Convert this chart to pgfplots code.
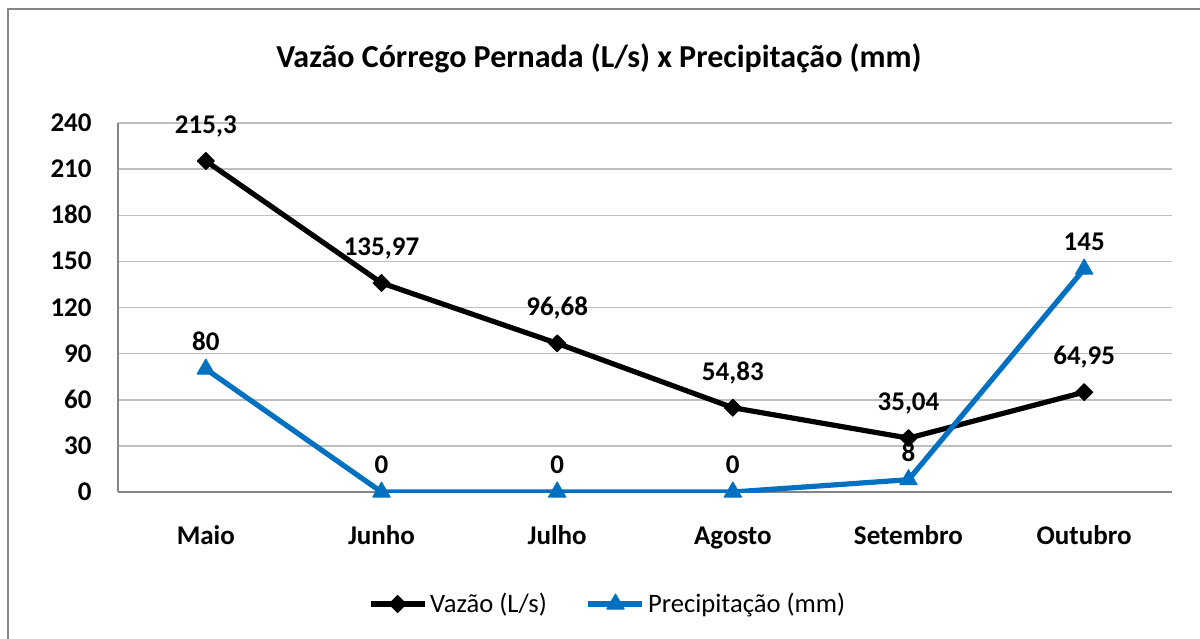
\documentclass[border=0pt]{standalone}
\usepackage{pgfplots}
\pgfplotsset{compat=1.18}
\usepackage{fontspec}
\setmainfont{Carlito}
\definecolor{pblue}{RGB}{0,112,192}
\definecolor{gridc}{RGB}{191,191,191}
\definecolor{axc}{RGB}{134,134,134}
\begin{document}
\begin{tikzpicture}[x=1pt,y=1pt]
\begin{axis}[
  at={(59pt,73pt)}, anchor=south west,
  scale only axis, width=527pt, height=184.5pt,
  xmin=-0.5, xmax=5.5, ymin=0, ymax=240,
  xtick={0,1,2,3,4,5},
  xticklabels={Maio,Junho,Julho,Agosto,Setembro,Outubro},
  ytick={0,30,...,240},
  ymajorgrids, major grid style={gridc, line width=0.75pt},
  axis x line*=bottom, axis y line*=left,
  axis line style={axc, line width=0.75pt, -},
  major tick length=0pt,
  /pgf/number format/assume math mode=true,
  ticklabel style={font=\fontsize{13.5}{15}\selectfont\bfseries, inner sep=0pt},
  yticklabel style={anchor=base east, xshift=-13pt, yshift=-4.3pt},
  xticklabel style={anchor=base, yshift=-26pt},
  legend columns=2,
  legend style={draw=none, fill=none, at={(0.465,0)}, anchor=center, yshift=-56pt,
    font=\fontsize{13.3}{15}\selectfont,
    /tikz/every even column/.append style={column sep=18pt},
    nodes={inner sep=1.5pt}},
  legend image code/.code={\draw[mark repeat=2,mark phase=2,#1] plot coordinates {(0pt,0pt) (13.5pt,0pt) (27pt,0pt)};},
]
\addplot[black, line width=2.6pt, line join=round,
  mark=square*, mark size=3pt, mark options={solid, line width=0.5pt, rotate=45, fill=black},
  nodes near coords, point meta=explicit symbolic,
  every node near coord/.style={anchor=base, yshift=13.8pt, inner sep=0pt, font=\fontsize{13.5}{15}\selectfont\bfseries, text=black}]
  coordinates {(0,215.3)[215,3] (1,135.97)[135,97] (2,96.68)[96,68] (3,54.83)[54,83] (4,35.04)[35,04] (5,64.95)[64,95]};
\addplot[pblue, line width=2.6pt, line join=round,
  mark=triangle*, mark size=5pt, mark options={solid, line width=0.5pt, fill=pblue, draw=pblue},
  nodes near coords, point meta=explicit symbolic,
  every node near coord/.style={anchor=base, yshift=9.3pt, inner sep=0pt, font=\fontsize{13.5}{15}\selectfont\bfseries, text=black}]
  coordinates {(0,80)[80] (1,0)[0] (2,0)[0] (3,0)[0] (4,8)[8] (5,145)[145]};
\legend{Vazão (L/s), Precipitação (mm)}
\end{axis}
\node[anchor=base, font=\fontsize{16}{18}\selectfont\bfseries] at (299.5pt,285pt) {Vazão Córrego Pernada (L/s) x Precipitação (mm)};
\draw[axc, line width=1pt] (3.75pt,-20pt) -- (3.75pt,314.5pt) -- (620pt,314.5pt);
\pgfresetboundingbox
\path[use as bounding box] (0,0) rectangle (600pt,319pt);
\end{tikzpicture}
\end{document}
